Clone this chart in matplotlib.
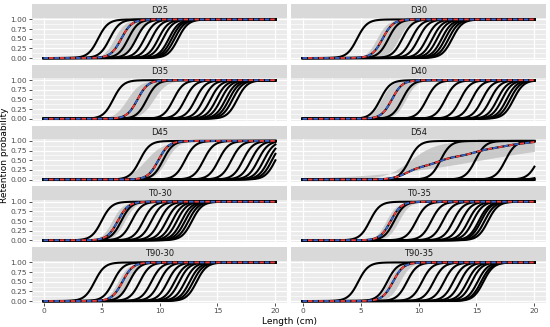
# Retention probability curves by treatment (facet grid, ggplot-like look)
import numpy as np
import matplotlib.pyplot as plt

panels = ["D25", "D30", "D35", "D40", "D45", "D54", "T0-30", "T0-35", "T90-30", "T90-35"]

# L50 (cm) of each black curve
l50_D25 = [4.7, 5.7, 7.3, 8.0, 8.7, 9.3, 9.9, 10.3, 10.8, 11.05, 11.3, 11.6]
l50_D30 = [4.7, 7.4, 8.6, 9.4, 10.0, 10.7, 11.2, 11.6, 12.0, 12.3, 12.6, 12.9]
l50_D35 = [6.0, 8.9, 11.2, 12.2, 13.1, 13.8, 14.4, 14.9, 15.3, 15.7, 16.0, 16.3, 16.7]
l50_D40 = [6.7, 8.6, 10.7, 12.3, 13.6, 14.6, 15.5, 16.2, 16.8, 17.2, 17.6, 17.9, 18.2]
l50_D45 = [8.3, 10.3, 12.2, 13.8, 15.1, 16.2, 17.2, 17.9, 18.5, 19.0, 19.4, 19.7, 20.0]
l50_D54 = [9.2, 11.9, 14.9, 17.5, 20.3, 21.4, 22.5, 23.5, 24.5, 25.5]
l50_T0_30 = [5.0, 6.7, 7.6, 8.6, 9.3, 10.0, 10.6, 11.1, 11.5, 11.9, 12.2, 12.5, 12.8]
l50_T0_35 = [5.8, 7.9, 9.8, 11.1, 12.1, 13.0, 13.7, 14.3, 14.7, 15.2, 15.4, 15.7, 16.0]
l50_T90_30 = [4.4, 6.0, 7.4, 8.3, 9.3, 10.0, 10.7, 11.3, 11.7, 12.2, 12.6, 12.9, 13.2]
l50_T90_35 = [4.8, 7.3, 9.0, 10.3, 11.3, 12.2, 13.0, 13.6, 14.2, 14.6, 15.1, 15.4, 15.6]
black_l50 = [l50_D25, l50_D30, l50_D35, l50_D40, l50_D45, l50_D54,
             l50_T0_30, l50_T0_35, l50_T90_30, l50_T90_35]

# mean (dashed) curve and its band, L50 per panel
mean_l50 = [6.7, 6.9, 8.1, 7.7, 9.9, None, 6.4, 7.6, 6.8, 7.8]
band_left = [6.1, 6.4, 7.2, 6.8, 8.8, 9.3, 5.9, 7.2, 6.4, 7.4]
band_right = [8.0, 8.3, 9.5, 8.9, 10.6, 15.3, 7.0, 8.3, 7.4, 8.4]
band_left_k = [2.2, 2.2, 1.8, 2.2, 1.3, 0.9, 2.2, 2.2, 2.2, 2.2]
band_right_k = [2.2, 2.2, 1.8, 2.2, 2.0, 0.21, 2.2, 2.2, 2.2, 2.2]

# D54 mean curve is a mix of steps
d54_weights = [0.35, 0.25, 0.2, 0.12, 0.08]
d54_l50 = [9.0, 11.8, 14.8, 17.3, 19.5]

black_k = 2.3
mean_k = 2.2


def logistic(x, l50, k):
    return 1.0 / (1.0 + np.exp(-k * (x - l50)))


x = np.linspace(0, 20, 400)

W, H = 550, 327
fig = plt.figure(figsize=(W / 100, H / 100), dpi=100)

col_left = [32, 291]
panel_w = 255
strip_h = 13.5
panel_h = 42.5
row_pitch = 60.75

for i, name in enumerate(panels):
    r, c = divmod(i, 2)
    top = 4 + row_pitch * r
    left = col_left[c]
    sax = fig.add_axes([left / W, 1 - (top + strip_h) / H, panel_w / W, strip_h / H])
    sax.set_facecolor("#D9D9D9")
    sax.set_xticks([])
    sax.set_yticks([])
    for s in sax.spines.values():
        s.set_visible(False)
    sax.text(0.5, 0.5, name, ha="center", va="center", fontsize=6, color="#1A1A1A",
             transform=sax.transAxes)

    ax = fig.add_axes([left / W, 1 - (top + strip_h + panel_h) / H, panel_w / W, panel_h / H])
    ax.set_facecolor("#EBEBEB")
    for s in ax.spines.values():
        s.set_visible(False)
    ax.set_xlim(-1, 21)
    ax.set_ylim(-0.05, 1.05)
    ax.set_xticks([0, 5, 10, 15, 20])
    ax.set_xticks([2.5, 7.5, 12.5, 17.5], minor=True)
    ax.set_yticks([0, 0.25, 0.5, 0.75, 1.0])
    ax.set_yticks([0.125, 0.375, 0.625, 0.875], minor=True)
    ax.grid(which="major", color="white", lw=0.9)
    ax.grid(which="minor", color="white", lw=0.45)
    ax.set_axisbelow(True)
    ax.tick_params(which="minor", length=0)
    ax.tick_params(which="major", length=2.2, width=0.6, color="#333333",
                   labelsize=5.4, labelcolor="#4D4D4D", pad=1.2)
    if c == 0:
        ax.set_yticklabels(["0.00", "0.25", "0.50", "0.75", "1.00"])
    else:
        ax.tick_params(axis="y", length=0, labelleft=False)
    if r < 4:
        ax.tick_params(axis="x", length=0, labelbottom=False)

    # band
    upper = logistic(x, band_left[i], band_left_k[i])
    lower = logistic(x, band_right[i], band_right_k[i])
    ax.fill_between(x, lower, upper, color="#BDBDBD", alpha=0.75, lw=0, zorder=2)

    for l50 in black_l50[i]:
        ax.plot(x, logistic(x, l50, black_k), color="black", lw=1.5, zorder=3)

    if mean_l50[i] is None:
        m = sum(w * logistic(x, l, 1.6) for w, l in zip(d54_weights, d54_l50))
    else:
        m = logistic(x, mean_l50[i], mean_k)
    ax.plot(x, m, color="black", lw=1.5, zorder=4)
    ax.plot(x, m, color="#3A62C9", lw=1.3, dashes=(2.5, 3.5), dash_capstyle="butt", zorder=5)
    ax.plot(x, m, color="#F03C3C", lw=1.3, dashes=(0, 3, 2.5, 0.5), dash_capstyle="butt", zorder=5)

fig.text(5 / W, 1 - 155 / H, "Retention probability", rotation=90, ha="center", va="center",
         fontsize=6.5, color="black")
fig.text(289 / W, 1 - 321.5 / H, "Length (cm)", ha="center", va="center", fontsize=6.5, color="black")

fig.savefig("out.png", dpi=100)
